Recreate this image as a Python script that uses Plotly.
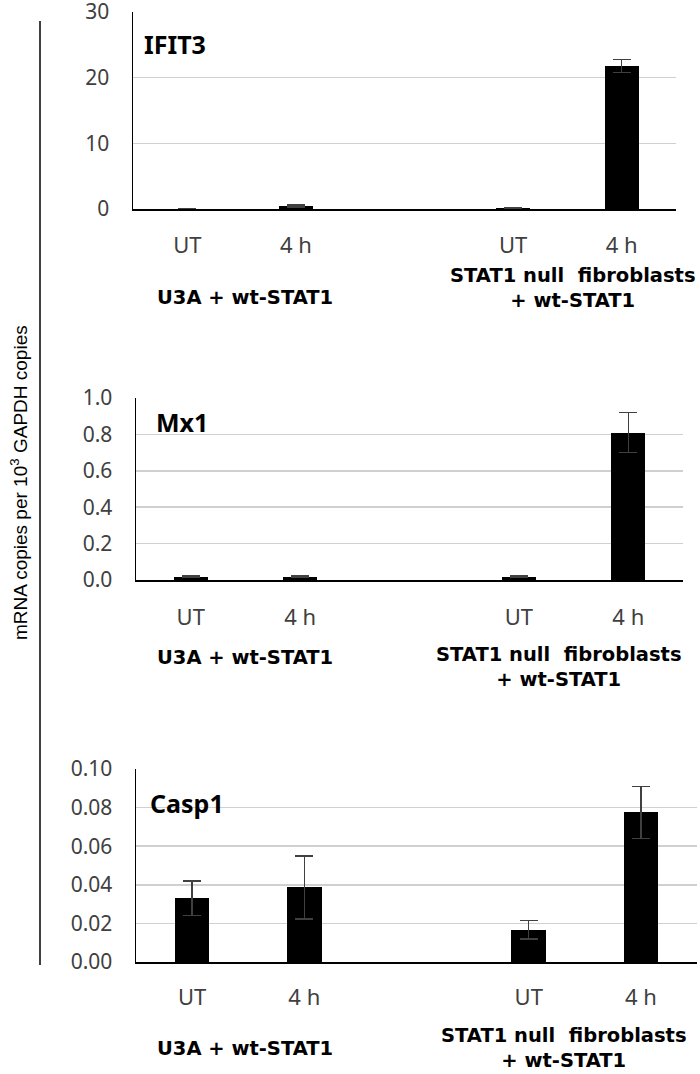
import plotly.graph_objects as go

W, H = 700, 1074

# ---------------- data ----------------
x_pos = [0, 1, 3, 4]
x_labels = ["UT", "4 h", "UT", "4 h"]

ifit3_vals = [0.05, 0.45, 0.1, 21.8]
ifit3_err = [0.03, 0.15, 0.05, 1.0]

mx1_vals = [0.018, 0.018, 0.018, 0.81]
mx1_err = [0.004, 0.004, 0.004, 0.11]

casp1_vals = [0.033, 0.0387, 0.0167, 0.0775]
casp1_err = [0.009, 0.0163, 0.0048, 0.0134]

panel_titles = ["IFIT3", "Mx1", "Casp1"]
group_left = "U3A + wt-STAT1"
group_right = "STAT1 null&nbsp; fibroblasts<br>+ wt-STAT1"
y_title = "mRNA copies per 10<sup>3</sup> GAPDH copies"

# ---------------- layout helpers ----------------
def px_x(x):
    return x / W

def px_y(y):
    return 1 - y / H

panels = [
    dict(vals=ifit3_vals, err=ifit3_err, rng=[0, 30], dtick=10, fmt="d",
         x0=133, x1=676, top=12, bot=209, tl=16, tx=142, ty=44,
         gl=(245, 297), gr=(573, 288)),
    dict(vals=mx1_vals, err=mx1_err, rng=[0, 1.0], dtick=0.2, fmt=".1f",
         x0=136, x1=683, top=398, bot=580, tl=17, tx=154, ty=422,
         gl=(245, 657), gr=(559, 667)),
    dict(vals=casp1_vals, err=casp1_err, rng=[0, 0.10], dtick=0.02, fmt=".2f",
         x0=136, x1=697, top=769, bot=962, tl=15, tx=148, ty=803,
         gl=(245, 1048), gr=(564, 1048)),
]

TICK_FONT = "Noto Sans, Open Sans, sans-serif"
TITLE_FONT = "Noto Sans, Open Sans, sans-serif"
GROUP_FONT = "DejaVu Sans, Noto Sans, sans-serif"

fig = go.Figure()
annotations = []

for i, p in enumerate(panels):
    k = "" if i == 0 else str(i + 1)
    fig.add_trace(go.Bar(
        x=x_pos, y=p["vals"],
        xaxis="x" + k, yaxis="y" + k,
        width=0.31,
        marker=dict(color="black", line=dict(width=0)),
        error_y=dict(type="data", array=p["err"], visible=True,
                     color="#404040", thickness=1.5, width=9),
        showlegend=False,
    ))
    fig.update_layout(**{
        "xaxis" + k: dict(
            domain=[px_x(p["x0"]), px_x(p["x1"])],
            anchor="y" + k,
            range=[-0.5, 4.5],
            tickmode="array", tickvals=x_pos, ticktext=x_labels,
            ticks="outside", ticklen=p["tl"], tickcolor="rgba(0,0,0,0)",
            tickfont=dict(family=TICK_FONT, size=22, color="#404040"),
            showline=True, linecolor="black", linewidth=1.5,
            showgrid=False, zeroline=False, fixedrange=True,
            automargin=False, ticklabeloverflow="allow",
        ),
        "yaxis" + k: dict(
            domain=[px_y(p["bot"]), px_y(p["top"])],
            anchor="x" + k,
            range=p["rng"], dtick=p["dtick"], tick0=0,
            tickformat=p["fmt"],
            ticks="outside", ticklen=18, tickcolor="rgba(0,0,0,0)",
            tickfont=dict(family=TICK_FONT, size=21, color="#404040"),
            showline=True, linecolor="black", linewidth=1.5,
            showgrid=True, gridcolor="#d0d0d0", gridwidth=1.5,
            zeroline=False, fixedrange=True,
            automargin=False, ticklabeloverflow="allow",
        ),
    })
    annotations.append(dict(
        text="<b>" + panel_titles[i] + "</b>", xref="paper", yref="paper",
        x=px_x(p["tx"]), y=px_y(p["ty"]), xanchor="left", yanchor="middle",
        showarrow=False, font=dict(family=TITLE_FONT, size=25, color="black"),
    ))
    annotations.append(dict(
        text="<b>" + group_left + "</b>", xref="paper", yref="paper",
        x=px_x(p["gl"][0]), y=px_y(p["gl"][1]), xanchor="center", yanchor="middle",
        showarrow=False, font=dict(family=GROUP_FONT, size=19.5, color="black"),
    ))
    annotations.append(dict(
        text="<b>" + group_right + "</b>", xref="paper", yref="paper",
        x=px_x(p["gr"][0]), y=px_y(p["gr"][1]), xanchor="center", yanchor="middle",
        showarrow=False, align="center",
        font=dict(family=GROUP_FONT, size=19.5, color="black"),
    ))

annotations.append(dict(
    text=y_title, xref="paper", yref="paper", x=px_x(19), y=px_y(483),
    xanchor="center", yanchor="middle", textangle=-90, showarrow=False,
    font=dict(family="Liberation Sans, Arial, sans-serif", size=19, color="black"),
))

fig.update_layout(
    width=W, height=H,
    margin=dict(l=0, r=0, t=0, b=0, autoexpand=False),
    paper_bgcolor="white", plot_bgcolor="white",
    annotations=annotations,
    shapes=[dict(type="line", xref="paper", yref="paper",
                 x0=px_x(40), x1=px_x(40), y0=px_y(965), y1=px_y(21),
                 line=dict(color="black", width=1.5))],
    bargap=0,
)

# remove the default 8px page margin so the figure sits at the window origin
fig.write_html("out.html",
               config={"displayModeBar": False, "staticPlot": True},
               post_script="document.body.style.margin='0';"
                           "document.body.style.overflow='hidden';")
